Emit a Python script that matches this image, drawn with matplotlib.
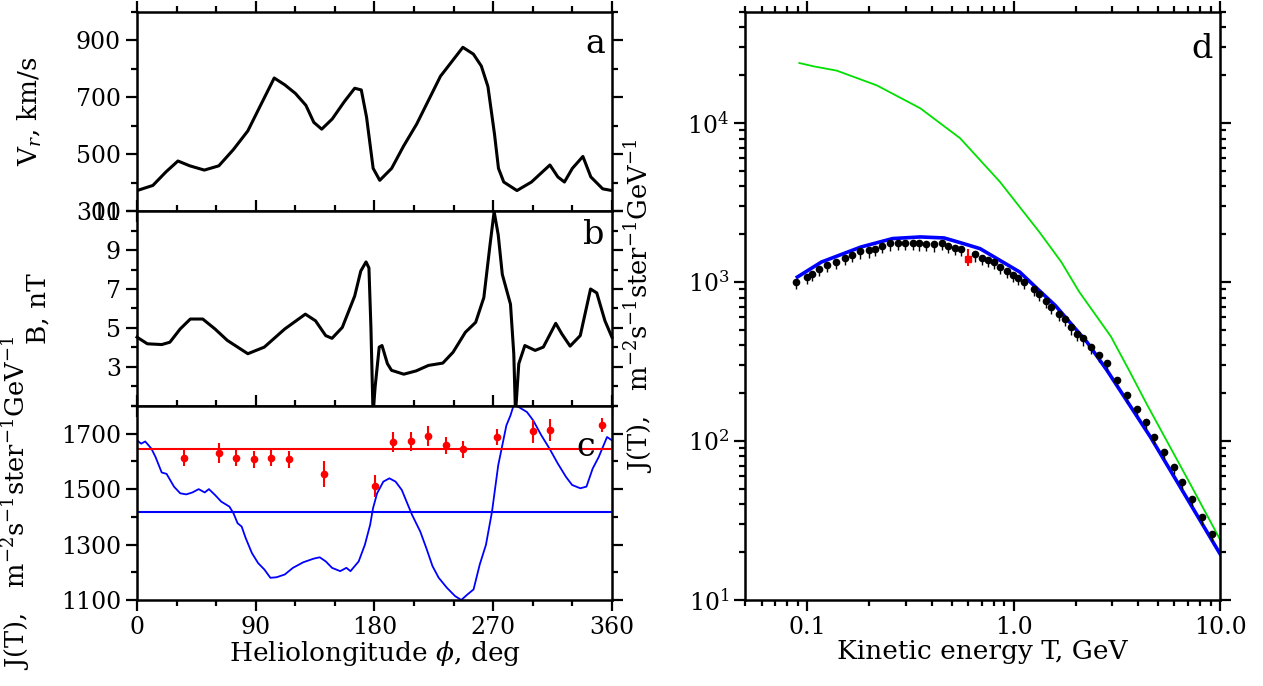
import numpy as np
import matplotlib.pyplot as plt
from matplotlib.ticker import MultipleLocator, LogLocator, NullFormatter

plt.rcParams['font.family'] = 'DejaVu Serif'
plt.rcParams['mathtext.fontset'] = 'dejavuserif'

# ==========================
# Panel a: solar wind speed
# ==========================
phi_v = [0, 12, 22, 31, 40, 51, 62, 73, 84, 93, 104, 112, 120, 128, 134, 140,
         148, 157, 165, 170, 174, 179, 184, 193, 202, 212, 221, 230, 240, 247,
         255, 261, 266, 271, 274, 278, 288, 299, 313, 319, 324, 330, 338, 344,
         353, 360]
vr = [372, 390, 438, 476, 459, 444, 459, 516, 582, 666, 768, 744, 714, 672, 612, 588,
      624, 684, 732, 726, 630, 450, 408, 450, 528, 606, 690, 774, 834, 876,
      852, 810, 738, 570, 450, 402, 372, 402, 462, 420, 402, 450, 492, 420,
      378, 372]

# ==========================
# Panel b: IMF strength
# ==========================
phi_b = [0, 7.8, 18.7, 24.9, 32.7, 40.4, 49.8, 59.1, 68.5, 84, 96.5, 112, 127.6,
         135.3, 143, 147.8, 155.6, 165, 169.6, 173.6, 175.8, 177.3, 178.9, 180.5,
         183.6, 185.7, 189.8, 192.9, 202.2, 211.6, 220.9, 231.8, 239.6, 248.9,
         256.7, 262.9, 267.6, 270.7, 273.8, 276.9, 283.1, 285.6, 286.9, 289.4,
         294, 301.8, 308, 317.4, 322, 328.3, 336, 343.8, 348.5, 354.7, 360]
bfield = [4.53, 4.19, 4.15, 4.27, 4.95, 5.46, 5.46, 4.95, 4.36, 3.68, 4.02, 4.95, 5.71,
          5.37, 4.61, 4.47, 5.03, 6.64, 7.92, 8.39, 8.08, 5.03, 0.6, 1.98,
          4.02, 4.1, 3.17, 2.83, 2.63, 2.8, 3.08, 3.2, 3.76, 4.78,
          5.29, 6.56, 9.27, 10.97, 9.78, 7.75, 6.22, 3.68, 0.6, 3.17,
          4.1, 3.85, 4.02, 5.24, 4.7, 4.07, 4.61, 7.0, 6.8, 5.37, 4.53]

# ==========================
# Panel c: J(T) vs longitude
# ==========================
phi_j = [0, 3.1, 6.2, 10.9, 14, 18.7, 22.4, 28, 32.7, 37.3, 42, 46.7, 51.3, 54.5,
         59.1, 63.8, 70, 73.1, 76.2, 79.3, 82.4, 87.1, 91.8, 96.5, 101.1, 105.8,
         112, 118.2, 126, 133.8, 138.5, 143.1, 147.8, 154, 158.7, 161.8, 168,
         172.7, 176.7, 178.9, 182, 186.7, 191.3, 196, 200.7, 203.8, 208.5, 214.7,
         219.3, 224, 228.7, 234.9, 241.1, 245.8, 250.5, 255.1, 259.8, 264.5,
         269.1, 273.8, 280, 283.1, 285.6, 289.4, 295.6, 300.3, 306.5, 312.7, 319,
         325.2, 329.8, 336, 340.7, 345.4, 350, 356.3, 360]
j_model = [1676, 1664, 1672, 1646, 1616, 1560, 1555, 1509, 1485, 1481, 1488, 1500, 1488, 1500,
           1479, 1455, 1437, 1413, 1377, 1365, 1323, 1269, 1233, 1210, 1180, 1182,
           1192, 1216, 1236, 1249, 1254, 1239, 1216, 1204, 1216, 1204, 1239,
           1299, 1371, 1431, 1485, 1527, 1539, 1527, 1497, 1461, 1407, 1347,
           1287, 1222, 1180, 1144, 1114, 1100, 1120, 1138, 1228, 1299,
           1419, 1586, 1730, 1766, 1804, 1796, 1778, 1748, 1694, 1646, 1592,
           1544, 1515, 1503, 1509, 1574, 1616, 1688, 1676]
j_model_mean = 1418

phi_obs = [35.8, 62.2, 75.3, 88.7, 101.7, 115.1, 141.6, 180.5, 194.1, 207.5,
           220.9, 234, 247, 273.2, 299.9, 313.3, 352.5]
j_obs = [1613, 1631, 1613, 1607, 1614, 1607, 1555, 1511, 1670, 1672,
         1692, 1658, 1643, 1688, 1708, 1712, 1732]
j_obs_err = [30, 35, 30, 30, 32, 30, 48, 40, 35, 35,
             35, 30, 30, 30, 40, 40, 25]
j_obs_mean = 1644

# ==========================
# Panel d: energy spectrum
# ==========================
t_lis = [0.0915, 0.107, 0.139, 0.217, 0.353, 0.55, 0.857, 1.33, 1.7, 2.08, 2.5,
         2.96, 3.6, 4.4, 5.5, 7.18, 10.0]
j_lis = [23900, 22800, 21400, 17300, 12400, 8040, 4280, 2070, 1340, 866, 619,
         454, 283, 172, 101, 53.5, 24.0]

t_mod = [0.0895, 0.117, 0.182, 0.259, 0.353, 0.46, 0.56, 0.687, 1.07, 1.3, 1.59,
         2.27, 2.83, 4.6, 6.28, 10.0]
j_mod = [1076, 1337, 1663, 1879, 1924, 1896, 1760, 1624, 1157, 910, 713,
         418, 279, 106, 53.8, 19.5]

t_data = [0.0885, 0.100, 0.105, 0.114, 0.125, 0.138, 0.153, 0.165, 0.181, 0.199,
          0.214, 0.229, 0.252, 0.275, 0.299, 0.324, 0.347, 0.376, 0.409, 0.447,
          0.482, 0.518, 0.558, 0.648, 0.700, 0.750, 0.806, 0.859, 0.925, 0.990,
          1.05, 1.12, 1.25, 1.33, 1.44, 1.52, 1.66, 1.78, 1.90, 2.03,
          2.17, 2.37, 2.59, 2.83, 3.16, 3.53, 3.95, 4.37, 4.81, 5.38,
          6.01, 6.57, 7.33, 8.19, 9.16]
j_data = [1000, 1076, 1129, 1214, 1287, 1339, 1420, 1490, 1563, 1585,
          1622, 1690, 1750, 1766, 1766, 1766, 1750, 1737, 1730, 1766,
          1682, 1643, 1622, 1496, 1426, 1386, 1339, 1244, 1180, 1110,
          1060, 1000, 907, 844, 766, 695, 631, 587, 520, 472,
          443, 393, 348, 308, 242, 194, 160, 132, 106, 85.2,
          68.5, 55.1, 43.2, 33.1, 26]
err_lo = 0.10
err_hi = 0.04

t_red = [0.598]
j_red = [1399]
j_red_err = [[130], [210]]

# ==========================
# Figure
# ==========================
fig = plt.figure(figsize=(12.63, 6.86), dpi=100)
ax_a = fig.add_axes([0.1085, 0.6924, 0.376, 0.2900])
ax_b = fig.add_axes([0.1085, 0.4082, 0.376, 0.2842])
ax_c = fig.add_axes([0.1085, 0.1254, 0.376, 0.2828])
ax_d = fig.add_axes([0.590, 0.1254, 0.376, 0.857])

for ax in [ax_a, ax_b, ax_c, ax_d]:
    for s in ax.spines.values():
        s.set_linewidth(1.8)
    ax.tick_params(which='both', direction='out', top=True, right=True,
                   width=1.6, labelsize=17)
    ax.tick_params(which='major', length=8)
    ax.tick_params(which='minor', length=4.5)

for ax in [ax_a, ax_b, ax_c]:
    ax.set_xlim(0, 360)
    ax.xaxis.set_major_locator(MultipleLocator(90))
    ax.xaxis.set_minor_locator(MultipleLocator(30))

# panel a
ax_a.plot(phi_v, vr, color='black', lw=2.2)
ax_a.set_ylim(300, 1000)
ax_a.set_yticks([300, 500, 700, 900])
ax_a.yaxis.set_minor_locator(MultipleLocator(100))
ax_a.tick_params(labelbottom=False)
ax_a.set_ylabel(r'V$_r$, km/s', fontsize=19)
ax_a.yaxis.set_label_coords(-0.196, 0.5)
ax_a.text(0.985, 0.92, 'a', transform=ax_a.transAxes, ha='right', va='top', fontsize=24)

# panel b
ax_b.plot(phi_b, bfield, color='black', lw=2.2, clip_on=False)
ax_b.set_ylim(1, 11)
ax_b.set_yticks([3, 5, 7, 9, 11])
ax_b.yaxis.set_minor_locator(MultipleLocator(1))
ax_b.tick_params(labelbottom=False)
ax_b.set_ylabel('B, nT', fontsize=19)
ax_b.yaxis.set_label_coords(-0.183, 0.5)
ax_b.text(0.985, 0.96, 'b', transform=ax_b.transAxes, ha='right', va='top', fontsize=24)

# panel c
ax_c.plot(phi_j, j_model, color='blue', lw=1.3)
ax_c.axhline(j_model_mean, color='blue', lw=1.5)
ax_c.axhline(j_obs_mean, color='red', lw=1.5)
ax_c.errorbar(phi_obs, j_obs, yerr=j_obs_err, fmt='o', color='red', ms=4.5,
              elinewidth=1.5, capsize=0)
ax_c.set_ylim(1100, 1800)
ax_c.set_yticks([1100, 1300, 1500, 1700])
ax_c.yaxis.set_minor_locator(MultipleLocator(100))
ax_c.set_xlabel(r'Heliolongitude $\phi$, deg', fontsize=19, labelpad=0)
ax_c.set_ylabel(r'J(T),   m$^{-2}$s$^{-1}$ster$^{-1}$GeV$^{-1}$', fontsize=18.5)
ax_c.yaxis.set_label_coords(-0.222, 0.5)
ax_c.text(0.965, 0.87, 'c', transform=ax_c.transAxes, ha='right', va='top', fontsize=24)

# panel d
ax_d.set_xscale('log')
ax_d.set_yscale('log')
ax_d.plot(t_lis, j_lis, color='#00e000', lw=1.3)
ax_d.plot(t_mod, j_mod, color='blue', lw=2.6)
j_arr = np.array(j_data)
ax_d.errorbar(t_data, j_data, yerr=[j_arr * err_lo, j_arr * err_hi], fmt='o',
              color='black', ms=4.5, elinewidth=1.0, capsize=0)
ax_d.errorbar(t_red, j_red, yerr=j_red_err, fmt='s', color='red', ms=4,
              elinewidth=1.5, capsize=0)
ax_d.set_xlim(0.05, 10)
ax_d.set_ylim(10, 5e4)
ax_d.set_xticks([0.1, 1, 10])
ax_d.set_xticklabels(['0.1', '1.0', '10.0'])
ax_d.xaxis.set_minor_locator(LogLocator(base=10, subs=np.arange(2, 10)))
ax_d.xaxis.set_minor_formatter(NullFormatter())
ax_d.yaxis.set_minor_locator(LogLocator(base=10, subs=np.arange(2, 10)))
ax_d.yaxis.set_minor_formatter(NullFormatter())
ax_d.set_xlabel('Kinetic energy T, GeV', fontsize=19, labelpad=0)
ax_d.set_ylabel(r'J(T),   m$^{-2}$s$^{-1}$ster$^{-1}$GeV$^{-1}$', fontsize=18.5)
ax_d.yaxis.set_label_coords(-0.19, 0.5)
ax_d.text(0.985, 0.965, 'd', transform=ax_d.transAxes, ha='right', va='top', fontsize=24)

plt.savefig('out.png', dpi=100)
